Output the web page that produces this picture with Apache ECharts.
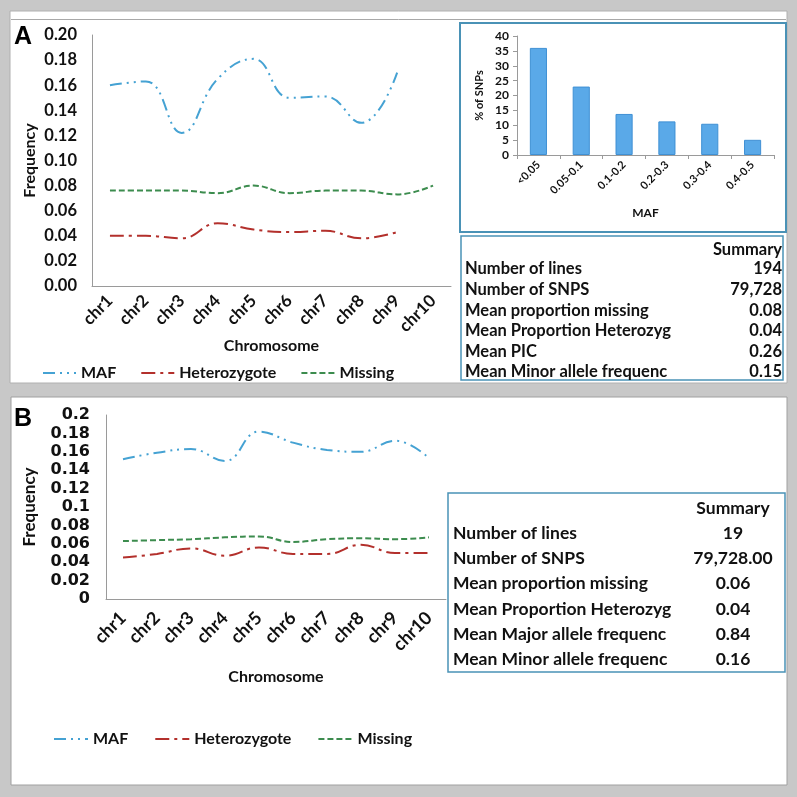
<!DOCTYPE html>
<html><head><meta charset="utf-8">
<script src="https://cdn.jsdelivr.net/npm/echarts@6/dist/echarts.min.js"></script>
<style>html,body{margin:0;padding:0;background:#c8c8c8;}#c{width:797px;height:797px;}</style>
</head><body><div id="c"></div>
<script>
// ---- data ----
const chromosomes = ['chr1','chr2','chr3','chr4','chr5','chr6','chr7','chr8','chr9','chr10'];
const mafA = [0.160,0.163,0.122,0.165,0.181,0.150,0.151,0.130,0.170,null];
const hetA = [0.040,0.040,0.038,0.050,0.045,0.043,0.044,0.038,0.043,null];
const missA = [0.076,0.076,0.076,0.074,0.080,0.074,0.076,0.076,0.073,0.080];
const mafB = [0.152,0.159,0.163,0.150,0.182,0.170,0.162,0.160,0.172,0.153];
const hetB = [0.045,0.049,0.055,0.047,0.056,0.049,0.049,0.059,0.050,0.050];
const missB = [0.063,0.064,0.065,0.067,0.068,0.062,0.065,0.066,0.065,0.067];
const mafBins = ['<0.05','0.05-0.1','0.1-0.2','0.2-0.3','0.3-0.4','0.4-0.5'];
const pctSnps = [36,23,13.8,11.3,10.5,5.1];
const tableHeader = 'Summary';
const tableALabels = ['Number of lines','Number of SNPS','Mean proportion missing','Mean Proportion Heterozyg','Mean PIC','Mean Minor allele frequenc'];
const tableAValues = ['194','79,728','0.08','0.04','0.26','0.15'];
const tableBLabels = ['Number of lines','Number of SNPS','Mean proportion missing','Mean Proportion Heterozyg','Mean Major allele frequenc','Mean Minor allele frequenc'];
const tableBValues = ['19','79,728.00','0.06','0.04','0.84','0.16'];
const legendNames = ['MAF','Heterozygote','Missing'];

// ---- styles ----
const FONT = 'Lato';
const C_MAF = '#45a2d3', C_HET = '#b3302c', C_MISS = '#3c8c4e';
const BOX = '#4a92b6';
const chart = echarts.init(document.getElementById('c'));

function lineSeries(name, data, color, type, xi, yi) {
  return {
    type: 'line', name, data, xAxisIndex: xi, yAxisIndex: yi,
    smooth: 0.45, symbol: 'none', showSymbol: false, connectNulls: false,
    lineStyle: { color, width: 2, type },
    itemStyle: { color }
  };
}
const dMAF = [12,5,2,5,2,5], dHET = [14,5,3,5], dMISS = [6,3];

const FA = 'bold 16.5px ' + FONT, FB = 'bold 17.5px ' + FONT;
const graphics = [
  { type: 'rect', shape: { x: 10, y: 11, width: 777, height: 372 }, style: { fill: '#fff', stroke: '#b0b0b0', lineWidth: 1 }, z: -10 },
  { type: 'line', shape: { x1: 11, y1: 19.5, x2: 786, y2: 19.5 }, style: { stroke: '#a8a8a8', lineWidth: 1 }, z: -9 },
  { type: 'rect', shape: { x: 11, y: 397, width: 776, height: 388 }, style: { fill: '#fff', stroke: '#a0a0a0', lineWidth: 1 }, z: -10 },
  { type: 'rect', shape: { x: 460, y: 23, width: 326, height: 209 }, style: { fill: 'none', stroke: BOX, lineWidth: 2 }, z: 50 },
  { type: 'rect', shape: { x: 461, y: 236, width: 322, height: 144 }, style: { fill: 'none', stroke: BOX, lineWidth: 1.5 }, z: 50 },
  { type: 'rect', shape: { x: 448, y: 493, width: 337, height: 179 }, style: { fill: 'none', stroke: BOX, lineWidth: 1.5 }, z: 50 },
  { type: 'text', style: { text: 'A', x: 14, y: 37, font: 'bold 25px Arial', fill: '#000', align: 'left', verticalAlign: 'middle' }, z: 60 },
  { type: 'text', style: { text: 'B', x: 14, y: 419, font: 'bold 25px Arial', fill: '#000', align: 'left', verticalAlign: 'middle' }, z: 60 },
  { type: 'text', style: { text: tableHeader, x: 782, y: 250, font: FA, fill: '#111', align: 'right', verticalAlign: 'middle' }, z: 60 },
  { type: 'text', style: { text: tableHeader, x: 733, y: 508, font: FB, fill: '#111', align: 'center', verticalAlign: 'middle' }, z: 60 }
];
tableALabels.forEach((t, i) => {
  graphics.push({ type: 'text', style: { text: t, x: 465, y: 269 + i * 20.6, font: FA, fill: '#111', align: 'left', verticalAlign: 'middle' }, z: 60 });
  graphics.push({ type: 'text', style: { text: tableAValues[i], x: 782, y: 269 + i * 20.6, font: FA, fill: '#111', align: 'right', verticalAlign: 'middle' }, z: 60 });
});
tableBLabels.forEach((t, i) => {
  graphics.push({ type: 'text', style: { text: t, x: 453, y: 533 + i * 25.3, font: FB, fill: '#111', align: 'left', verticalAlign: 'middle' }, z: 60 });
  graphics.push({ type: 'text', style: { text: tableBValues[i], x: 733, y: 533 + i * 25.3, font: FB, fill: '#111', align: 'center', verticalAlign: 'middle' }, z: 60 });
});

const axisLine = { show: true, lineStyle: { color: '#9a9a9a', width: 1 } };
const txt = (size) => ({ fontFamily: FONT, fontWeight: 'bold', fontSize: size, color: '#111' });

const option = {
  animation: false,
  backgroundColor: '#c8c8c8',
  graphic: graphics,
  legend: [
    { data: legendNames, left: 37, top: 360, itemGap: 24, itemWidth: 33, itemHeight: 14, itemStyle: { opacity: 0 }, textStyle: txt(16) },
    { data: legendNames, left: 48, top: 726, itemGap: 26, itemWidth: 34, itemHeight: 14, itemStyle: { opacity: 0 }, textStyle: txt(16) }
  ],
  grid: [
    { left: 92, top: 35, width: 359, height: 251 },
    { left: 517, top: 36, width: 257, height: 119 },
    { left: 106, top: 415, width: 340, height: 184 }
  ],
  xAxis: [
    { type: 'category', gridIndex: 0, data: chromosomes, boundaryGap: true, axisLine, axisTick: { show: false },
      axisLabel: { rotate: 45, margin: 12, ...txt(17) }, name: 'Chromosome', nameLocation: 'middle', nameGap: 52, nameTextStyle: txt(16) },
    { type: 'category', gridIndex: 1, data: mafBins, boundaryGap: true, axisLine, axisTick: { show: true, length: 4, lineStyle: { color: '#9a9a9a' } },
      axisLabel: { rotate: 45, margin: 8, ...txt(11) }, name: 'MAF', nameLocation: 'middle', nameGap: 52, nameTextStyle: txt(12) },
    { type: 'category', gridIndex: 2, data: chromosomes, boundaryGap: true, axisLine, axisTick: { show: false },
      axisLabel: { rotate: 45, margin: 16, ...txt(18) }, name: 'Chromosome', nameLocation: 'middle', nameGap: 70, nameTextStyle: txt(16) }
  ],
  yAxis: [
    { type: 'value', gridIndex: 0, min: 0, max: 0.2, interval: 0.02, axisLine, axisTick: { show: false }, splitLine: { show: false },
      axisLabel: { margin: 15, showMinLabel: true, showMaxLabel: true, hideOverlap: false, formatter: v => v.toFixed(2), ...txt(16.5) }, name: 'Frequency', nameLocation: 'middle', nameGap: 54, nameTextStyle: txt(16) },
    { type: 'value', gridIndex: 1, min: 0, max: 40, interval: 5, axisLine, axisTick: { show: true, length: 4, lineStyle: { color: '#9a9a9a' } }, splitLine: { show: false },
      axisLabel: { margin: 8, ...txt(12) }, name: '% of SNPs', nameLocation: 'middle', nameGap: 32, nameTextStyle: txt(11) },
    { type: 'value', gridIndex: 2, min: 0, max: 0.2, interval: 0.02, axisLine, axisTick: { show: false }, splitLine: { show: false },
      axisLabel: { margin: 16, showMinLabel: true, showMaxLabel: true, hideOverlap: false, formatter: v => String(+v.toFixed(2)),
        fontFamily: 'DejaVu Sans', fontWeight: 'bold', fontSize: 16, lineHeight: 16, color: '#111' },
      name: 'Frequency', nameLocation: 'middle', nameGap: 68, nameTextStyle: txt(17) }
  ],
  series: [
    lineSeries('MAF', mafA, C_MAF, dMAF, 0, 0),
    lineSeries('Heterozygote', hetA, C_HET, dHET, 0, 0),
    lineSeries('Missing', missA, C_MISS, dMISS, 0, 0),
    { type: 'bar', name: '% of SNPs', data: pctSnps, xAxisIndex: 1, yAxisIndex: 1, barWidth: '40%',
      itemStyle: { color: '#5aa9e8', borderColor: '#3f90d4', borderWidth: 1 } },
    lineSeries('MAF', mafB, C_MAF, dMAF, 2, 2),
    lineSeries('Heterozygote', hetB, C_HET, dHET, 2, 2),
    lineSeries('Missing', missB, C_MISS, dMISS, 2, 2)
  ]
};
chart.setOption(option);
</script>
</body></html>
